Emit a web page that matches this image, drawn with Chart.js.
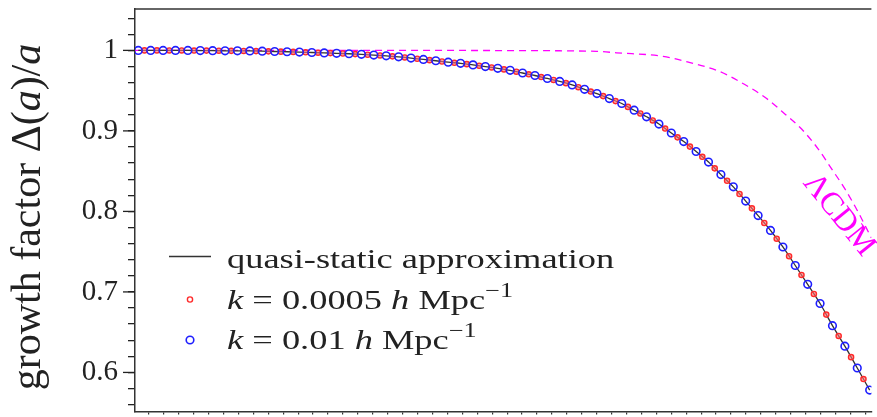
<!DOCTYPE html>
<html>
<head>
<meta charset="utf-8">
<title>growth factor</title>
<script src="https://cdn.jsdelivr.net/npm/chart.js@4.4.1/dist/chart.umd.min.js"></script>
<style>
  html, body { margin: 0; padding: 0; background: #fff; overflow: hidden; }
  canvas { display: block; }
</style>
</head>
<body>
<canvas id="growth-chart" width="877" height="417"></canvas>
<script>
// x is the sample index along the (unlabelled) time axis: blue samples on whole steps, red ones half a step later
const blueX = [0,1,2,3,4,5,6,7,8,9,10,11,12,13,14,15,16,17,18,19,20,21,22,23,24,25,26,27,28,29,
	30,31,32,33,34,35,36,37,38,39,40,41,42,43,44,45,46,47,48,49,50,51,52,53,54,55,56,57,58,59];
const blueY = [1.0000,1.0000,1.0000,0.9999,0.9999,0.9998,0.9996,0.9995,0.9994,0.9993,
	0.9990,0.9986,0.9983,0.9979,0.9974,0.9969,0.9964,0.9958,0.9951,0.9942,
	0.9933,0.9920,0.9904,0.9888,0.9871,0.9853,0.9839,0.9820,0.9799,0.9777,
	0.9752,0.9719,0.9688,0.9651,0.9615,0.9571,0.9516,0.9463,0.9401,0.9340,
	0.9257,0.9175,0.9085,0.8974,0.8867,0.8744,0.8613,0.8457,0.8305,0.8128,
	0.7948,0.7764,0.7558,0.7328,0.7094,0.6856,0.6581,0.6326,0.6055,0.5781];
const redX = [0.5,1.5,2.5,3.5,4.5,5.5,6.5,7.5,8.5,9.5,10.5,11.5,12.5,13.5,14.5,15.5,16.5,17.5,18.5,19.5,
	20.5,21.5,22.5,23.5,24.5,25.5,26.5,27.5,28.5,29.5,30.5,31.5,32.5,33.5,34.5,35.5,36.5,37.5,38.5,39.5,
	40.5,41.5,42.5,43.5,44.5,45.5,46.5,47.5,48.5,49.5,50.5,51.5,52.5,53.5,54.5,55.5,56.5,57.5,58.5];
const redY = [1.0000,1.0000,0.9999,0.9999,0.9998,0.9997,0.9996,0.9994,0.9993,0.9991,
	0.9988,0.9984,0.9981,0.9976,0.9971,0.9966,0.9961,0.9954,0.9946,0.9937,
	0.9926,0.9912,0.9896,0.9879,0.9862,0.9846,0.9829,0.9809,0.9788,0.9764,
	0.9735,0.9703,0.9669,0.9633,0.9593,0.9543,0.9489,0.9432,0.9370,0.9298,
	0.9216,0.9130,0.9029,0.8920,0.8805,0.8678,0.8535,0.8381,0.8216,0.8038,
	0.7856,0.7661,0.7443,0.7211,0.6975,0.6718,0.6453,0.6190,0.5918];
// quasi-static curve runs through the blue samples
const qsX = blueX;
const qsY = blueY;
const lcdmX = [-0.26, 20.95, 28.96, 36.97, 38.57, 42.33, 44.44, 46.84, 48.44, 50.58, 52.18, 53.51, 54.84, 55.92, 56.98, 58.05, 59.14];
const lcdmY = [1.0, 1.0, 0.9998, 0.9988, 0.9970, 0.9926, 0.9852, 0.9741, 0.9618, 0.9414, 0.9208, 0.9023, 0.8777, 0.8531, 0.8285, 0.7998, 0.7669];

const seriesLabels = ["quasi-static approximation", "k = 0.0005 h Mpc^-1", "k = 0.01 h Mpc^-1", "ΛCDM"];
// same labels split into roman / italic / superscript pieces for drawing
const legendRich = [
	[{t: "quasi-static approximation"}],
	[{t: "k", it: 1}, {t: " = 0.0005 "}, {t: "h", it: 1}, {t: " Mpc"}, {t: "−1", sup: 1}],
	[{t: "k", it: 1}, {t: " = 0.01 "}, {t: "h", it: 1}, {t: " Mpc"}, {t: "−1", sup: 1}]
];
const yTitleRich = [{t: "growth factor Δ("}, {t: "a", it: 1}, {t: ")/"}, {t: "a", it: 1}];

const yTickValues = [0.56,0.58,0.60,0.62,0.64,0.66,0.68,0.70,0.72,0.74,0.76,0.78,0.80,0.82,0.84,0.86,0.88,0.90,0.92,0.94,0.96,0.98,1.00,1.02,1.04];
const yMajorValues = [0.6, 0.7, 0.8, 0.9, 1.0];
const yMajorLabels = ["0.6", "0.7", "0.8", "0.9", "1"];

const SERIF = '"Liberation Serif"';
const STRETCH = 1.3;

function toPoints(xs, ys){
	return xs.map((x, i) => ({x: x, y: ys[i]}))
}

function drawRich(ctx, segs, x, y, size){
	let cx = x
	segs.forEach(s => {
		const fs = s.sup ? size * 0.72 : size
		ctx.font = (s.it ? "italic " : "") + fs + "px " + SERIF
		ctx.fillText(s.t, cx, s.sup ? y - size * 0.42 : y)
		cx += ctx.measureText(s.t).width
	})
	return cx - x
}

function richWidth(ctx, segs, size){
	let w = 0
	segs.forEach(s => {
		const fs = s.sup ? size * 0.72 : size
		ctx.font = (s.it ? "italic " : "") + fs + "px " + SERIF
		w += ctx.measureText(s.t).width
	})
	return w
}

const decor = {
	id: "decor",
	afterDraw(chart){
		const {ctx, chartArea: a, scales: {y}} = chart
		const ds = chart.data.datasets
		ctx.save()
		// top frame
		ctx.strokeStyle = "#333"
		ctx.lineWidth = 1.5
		ctx.beginPath()
		ctx.moveTo(a.left, a.top)
		ctx.lineTo(a.right, a.top)
		ctx.stroke()
		// longer major ticks
		ctx.lineWidth = 1.3
		ctx.strokeStyle = "#222"
		yMajorValues.forEach(v => {
			const py = y.getPixelForValue(v)
			ctx.beginPath()
			ctx.moveTo(a.left - 12, py)
			ctx.lineTo(a.left, py)
			ctx.stroke()
		})

		// y title
		ctx.fillStyle = "#222"
		ctx.textBaseline = "alphabetic"
		ctx.textAlign = "left"
		const tSize = 42
		ctx.save()
		ctx.translate(40, 217)
		ctx.rotate(-Math.PI / 2)
		const tw = richWidth(ctx, yTitleRich, tSize)
		drawRich(ctx, yTitleRich, -tw / 2, 0, tSize)
		ctx.restore()

		// legend
		const lSize = 28
		const rows = [268, 308.5, 349]
		ctx.strokeStyle = ds[2].borderColor
		ctx.lineWidth = 1.6
		ctx.beginPath()
		ctx.moveTo(169, 256.5)
		ctx.lineTo(211, 256.5)
		ctx.stroke()
		const marks = [null, ds[1], ds[0]]
		rows.forEach((by, i) => {
			const m = marks[i]
			if(m){
				ctx.beginPath()
				ctx.arc(190, by - 9, m.pointRadius, 0, Math.PI * 2)
				ctx.lineWidth = m.pointBorderWidth
				ctx.strokeStyle = m.pointBorderColor
				ctx.stroke()
			}
			ctx.save()
			ctx.translate(227, by)
			ctx.scale(STRETCH, 1)
			ctx.fillStyle = "#222"
			drawRich(ctx, legendRich[i], 0, 0, lSize)
			ctx.restore()
		})

		// LCDM label along its curve
		ctx.save()
		ctx.translate(839, 215)
		ctx.rotate(51 * Math.PI / 180)
		ctx.fillStyle = "#ff00ff"
		ctx.font = "32px " + SERIF
		ctx.textAlign = "center"
		ctx.textBaseline = "middle"
		ctx.fillText(seriesLabels[3], 0, 0)
		ctx.restore()

		ctx.restore()
	}
}

const growthChart = new Chart("growth-chart", {
	type: "line",
	data: {
		datasets: [{
			label: seriesLabels[2],
			data: toPoints(blueX, blueY),
			showLine: false,
			pointRadius: 3.8,
			pointBorderWidth: 1.6,
			pointBorderColor: "#1f1fff",
			pointBackgroundColor: "rgba(0,0,0,0)",
			order: 0
		}, {
			label: seriesLabels[1],
			data: toPoints(redX, redY),
			showLine: false,
			pointRadius: 2.6,
			pointBorderWidth: 1.4,
			pointBorderColor: "#ff2a2a",
			pointBackgroundColor: "rgba(255,110,110,0.6)",
			order: 1
		}, {
			label: seriesLabels[0],
			data: toPoints(qsX, qsY),
			borderColor: "#333",
			borderWidth: 1.3,
			pointRadius: 0,
			cubicInterpolationMode: "monotone",
			order: 2
		}, {
			label: seriesLabels[3],
			data: toPoints(lcdmX, lcdmY),
			borderColor: "#ff00ff",
			borderWidth: 1.3,
			borderDash: [7, 5],
			pointRadius: 0,
			cubicInterpolationMode: "monotone",
			order: 3
		}]
	},
	options: {
		responsive: false,
		animation: false,
		devicePixelRatio: 1,
		layout: {padding: {top: 9, left: 0, right: 0, bottom: 0}},
		plugins: {legend: {display: false}, tooltip: {enabled: false}},
		scales: {
			x: {
				type: "linear",
				min: -0.265,
				max: 59.14,
				ticks: {display: false},
				grid: {drawOnChartArea: false, tickLength: 3, color: "#333", lineWidth: 1.2},
				border: {color: "#333", width: 1.5},
				afterBuildTicks: s => {
					const t = []
					for(let v = 0.857; v < 59.14; v += 1.204) t.push({value: v})
					s.ticks = t
				},
				afterFit: s => {
					s.height = 3
					s.paddingLeft = 0
					s.paddingRight = 0
				}
			},
			y: {
				type: "linear",
				min: 0.5516,
				max: 1.0514,
				afterBuildTicks: s => { s.ticks = yTickValues.map(v => ({value: v})) },
				afterFit: s => {
					s.width = 135
					s.paddingTop = 0
					s.paddingBottom = 0
				},
				ticks: {
					color: "#222",
					padding: 10,
					font: {family: SERIF, size: 29},
					autoSkip: false,
					callback: v => {
						const k = yMajorValues.findIndex(m => Math.abs(m - v) < 1e-6)
						return k >= 0 ? yMajorLabels[k] : ""
					}
				},
				grid: {drawOnChartArea: false, tickLength: 7, color: "#222", lineWidth: 1.3},
				border: {color: "#333", width: 1.5}
			}
		}
	},
	plugins: [decor]
});
</script>
</body>
</html>
